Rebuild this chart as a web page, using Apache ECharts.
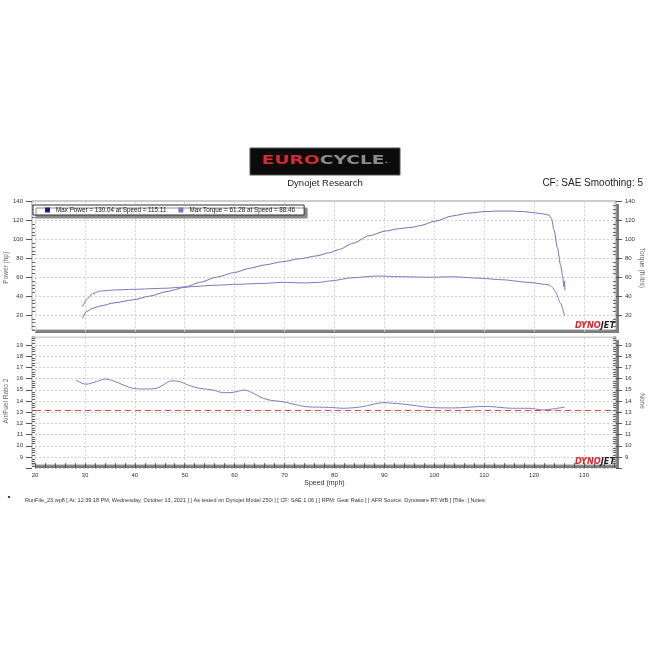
<!DOCTYPE html>
<html><head><meta charset="utf-8">
<script src="https://cdn.jsdelivr.net/npm/echarts@6/dist/echarts.min.js"></script>
<style>html,body{margin:0;padding:0;background:#fff}#c{width:650px;height:650px}</style>
</head><body><div id="c"></div>
<script>
// ---- data ----
const powerSpeed = [29.5,30.3,31.5,33,36,39.6,43,46.3,50,53,56.3,60,63,66,69.6,73,76.3,79,81,83.7,87,90.3,93,95.7,97,100.3,103.7,107,110,112.3,115.1,117.5,119.7,121.5,123,123.5,124,124.7,125.3,125.7,126,126.1,126.2];
const powerHp    = [16.5,23.5,27,29.5,33,36,40,44.7,49.3,54.5,60,65,69.5,73,76.5,79.5,82.5,86,89.5,96,104,109,111.5,113,114.5,119.5,125,128,129.5,130,130.04,129.6,128.5,127.3,126,122,110,91,73,62,50,56,46];
const torqueSpeed = [29.5,30.5,31.5,33,36,39.6,46,50,56.3,60,66,69.6,74,77,79,83.7,88.46,93.7,99,103.7,109,113.7,119,123,123.7,124.3,125.3,126.1];
const torqueLbft  = [28.8,37,42.5,45.4,46.5,47.2,48.3,49.7,51.5,52.5,53.5,54.6,54,54.6,56,59.5,61.28,60.5,60,60.5,59,57.3,54.5,52,49,44.7,32.4,19.3];
const afrSpeed = [28.2,30.2,32.3,34,35.7,37.7,39.7,42.3,44.3,45.7,47.3,49,51,53,55.7,57.7,59.7,62,64,65.7,67.7,69.7,71.7,74.3,77,79,81.7,85.7,89.7,94.3,99,103.7,110.3,115.7,119,121.7,123.7,126.2];
const afrRatio = [15.88,15.5,15.73,15.96,15.8,15.43,15.13,15.07,15.13,15.43,15.8,15.73,15.37,15.13,14.98,14.74,14.77,14.98,14.63,14.24,14.03,13.94,13.73,13.49,13.45,13.43,13.35,13.5,13.85,13.7,13.43,13.38,13.52,13.35,13.35,13.2,13.29,13.46];
const afrTarget = 13.2;
const legendText = {Power:'Max Power = 130.04 at Speed = 115.11', Torque:'Max Torque = 61.28 at Speed = 88.46'};
const footerText = 'RunFile_23.wp8 [ At: 12:39:18 PM, Wednesday, October 13, 2021 ] [ As tested on Dynojet Model 250i ] [ CF: SAE 1.06 ] [ RPM: Gear Ratio ] [ AFR Source: Dynoware RT WB ] [Title: ] Notes:';
const speedMin = 20, speedMax = 136, speedStep = 10;
const topMin = 0, topMax = 140, topStep = 20;
const afrMin = 8, afrMax = 20, afrStep = 1;

const zip = (a,b) => a.map((v,i)=>[v,b[i]]);
const FONT = 'Liberation Sans';
const lineCol = '#7370b8';
const splitStyle = {show:true, lineStyle:{color:'#cfcfcf', type:[2,2], width:1}};

function mainY(gi, pos, min, max, step, name, off, showSplit){
  return {gridIndex:gi, type:'value', position:pos, min:min, max:max, interval:step, offset:off,
    name:name, nameLocation:'middle', nameGap:22, nameRotate: pos==='left'?90:-90, nameMoveOverlap:false,
    nameTextStyle:{fontSize:6.5, color:'#6b6460', fontFamily:FONT},
    axisLine:{show:false},
    axisTick:{show:true, inside:false, length:6, lineStyle:{color:'#555'}},
    axisLabel:{fontSize:6, color:'#333', fontFamily:FONT, margin:9,
      formatter:v => (v>min && v<=max && v<=140 && (max===140 || v<max)) ? String(v) : ''},
    splitLine: showSplit ? splitStyle : {show:false}};
}
function minorY(gi, pos, min, max, step, off){
  return {gridIndex:gi, type:'value', position:pos, min:min, max:max, interval:step, offset:off,
    axisLine:{show:false}, axisLabel:{show:false},
    axisTick:{show:false, inside:true},
    minorTick:{show:true, splitNumber:5, length:3, lineStyle:{color:'#666'}},
    splitLine:{show:false}};
}

const chart = echarts.init(document.getElementById('c'), null, {renderer:'canvas'});
chart.setOption({
  animation:false,
  backgroundColor:'#fff',
  textStyle:{fontFamily:FONT},
  grid:[
    {left:35, top:201.7, width:578.9, height:132.2, outerBoundsMode:'none', containLabel:false},
    {left:35, top:333.8, width:578.9, height:134.4, outerBoundsMode:'none', containLabel:false}
  ],
  legend:{
    left:33, top:205, orient:'horizontal', selectedMode:false,
    icon:'rect', itemWidth:5, itemHeight:5, itemGap:12,
    padding:[2,9,2,12],
    backgroundColor:'#fff', borderColor:'#333', borderWidth:1,
    shadowColor:'#8a8a8a', shadowOffsetX:3, shadowOffsetY:3, shadowBlur:0.01,
    textStyle:{fontSize:6.3, color:'#111', fontFamily:FONT, padding:[0,0,0,1]},
    formatter:n => legendText[n],
    data:[{name:'Power', itemStyle:{color:'#1e1e78'}}, {name:'Torque', itemStyle:{color:'#7a74c2'}}]
  },
  xAxis:[
    {gridIndex:0, type:'value', min:speedMin, max:speedMax, interval:speedStep,
      axisLine:{show:false}, axisTick:{show:false}, axisLabel:{show:false}, splitLine:splitStyle},
    {gridIndex:1, type:'value', min:speedMin, max:speedMax, interval:speedStep,
      name:'Speed (mph)', nameLocation:'middle', nameGap:11, nameMoveOverlap:false,
      nameTextStyle:{fontSize:7, color:'#333', fontFamily:FONT},
      axisLine:{show:false},
      axisTick:{show:true, inside:true, length:5, lineStyle:{color:'#555'}},
      minorTick:{show:true, splitNumber:5, length:5, lineStyle:{color:'#555'}},
      axisLabel:{fontSize:6, color:'#333', fontFamily:FONT, margin:4,
        formatter:v => v<=130 ? String(v) : ''},
      splitLine:splitStyle}
  ],
  yAxis:[
    mainY(0,'left', topMin, topMax, topStep, 'Power (hp)', 3, true),
    mainY(0,'right', topMin, topMax, topStep, 'Torque (ft-lbs)', 2, false),
    minorY(0,'left', topMin, topMax, topStep, 3),
    minorY(0,'right', topMin, topMax, topStep, 2),
    mainY(1,'left', afrMin, afrMax, afrStep, 'Air/Fuel Ratio 2', 3, true),
    mainY(1,'right', afrMin, afrMax, afrStep, 'None', 2, false),
    minorY(1,'left', afrMin, afrMax, afrStep, 3),
    minorY(1,'right', afrMin, afrMax, afrStep, 2)
  ],
  series:[
    {name:'Power', type:'line', xAxisIndex:0, yAxisIndex:0, data:zip(powerSpeed, powerHp),
      showSymbol:false, smooth:0.25, smoothMonotone:'x', lineStyle:{color:lineCol, width:1}, itemStyle:{color:lineCol}},
    {name:'Torque', type:'line', xAxisIndex:0, yAxisIndex:1, data:zip(torqueSpeed, torqueLbft),
      showSymbol:false, smooth:0.25, smoothMonotone:'x', lineStyle:{color:'#7b78bf', width:1}, itemStyle:{color:'#7b78bf'}},
    {name:'AFR', type:'line', xAxisIndex:1, yAxisIndex:4, data:zip(afrSpeed, afrRatio),
      showSymbol:false, smooth:0.3, lineStyle:{color:'#7f7cc2', width:1},
      markLine:{silent:true, symbol:'none', label:{show:false},
        lineStyle:{color:'#e8413f', type:[6,4], width:1},
        data:[{yAxis:afrTarget}]}}
  ],
  graphic:[
    {type:'rect', z:-20, shape:{x:35,y:204,width:584,height:129}, style:{fill:'#7d7d7d'}},
    {type:'rect', z:-10, shape:{x:32,y:201,width:584,height:129}, style:{fill:'#fff', stroke:'#9a9a9a', lineWidth:1}},
    {type:'rect', z:-20, shape:{x:35,y:340,width:584,height:128}, style:{fill:'#7d7d7d'}},
    {type:'rect', z:-10, shape:{x:32,y:337,width:584,height:128}, style:{fill:'#fff', stroke:'#9a9a9a', lineWidth:1}},
    {type:'rect', z:100, shape:{x:0,y:333.4,width:650,height:3.2}, style:{fill:'#fff'}},
    // header logo
    {type:'rect', z:10, shape:{x:250,y:148,width:150,height:27}, style:{fill:'#0b0b0b', stroke:'#555', lineWidth:1}},
    {type:'text', z:11, x:325, y:161, scaleX:1.62,
      style:{text:'{a|EURO}{b|CYCLE}{c|.}', textAlign:'center', textVerticalAlign:'middle',
        rich:{a:{fill:'#d42a30', fontSize:11.5, fontWeight:'bold', fontFamily:'DejaVu Sans'},
              b:{fill:'#8c8c8c', fontSize:11.5, fontWeight:'bold', fontFamily:'DejaVu Sans'},
              c:{fill:'#8c8c8c', fontSize:6, fontWeight:'bold', fontFamily:'DejaVu Sans'}}}},
    {type:'text', z:11, x:325, y:183, style:{text:'Dynojet Research', fill:'#222', fontSize:9.5, fontFamily:FONT, textAlign:'center', textVerticalAlign:'middle'}},
    {type:'text', z:11, x:643, y:183, style:{text:'CF: SAE Smoothing: 5', fill:'#222', fontSize:10, fontFamily:FONT, textAlign:'right', textVerticalAlign:'middle'}},
    // dynojet marks
    {type:'text', z:11, x:615, y:325.5, style:{text:'{a|DYNO}{b|JET}', textAlign:'right', textVerticalAlign:'middle',
      rich:{a:{fill:'#e3232a', fontSize:8.2, fontWeight:'bold', fontStyle:'italic', fontFamily:'DejaVu Sans'},
            b:{fill:'#222', fontSize:8.2, fontWeight:'bold', fontStyle:'italic', fontFamily:'DejaVu Sans'}}}},
    {type:'text', z:11, x:615, y:461.5, style:{text:'{a|DYNO}{b|JET}', textAlign:'right', textVerticalAlign:'middle',
      rich:{a:{fill:'#e3232a', fontSize:8.2, fontWeight:'bold', fontStyle:'italic', fontFamily:'DejaVu Sans'},
            b:{fill:'#222', fontSize:8.2, fontWeight:'bold', fontStyle:'italic', fontFamily:'DejaVu Sans'}}}},
    // footer
    {type:'rect', z:11, shape:{x:8,y:496,width:2,height:2}, style:{fill:'#3535a0'}},
    {type:'text', z:11, x:25, y:500, style:{text:footerText, fill:'#333', fontSize:5.5, fontFamily:FONT, textAlign:'left', textVerticalAlign:'middle'}}
  ]
});
</script></body></html>
